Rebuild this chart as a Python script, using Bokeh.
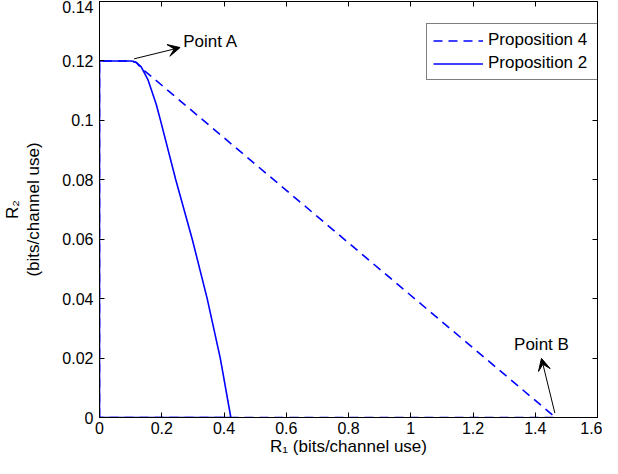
from bokeh.plotting import figure
from bokeh.models import (Arrow, VeeHead, Label, LinearAxis, FixedTicker, Legend,
                          LegendItem, Title, ColumnDataSource, Range1d, CustomJSTickFormatter)
from bokeh.embed import file_html
from bokeh.resources import INLINE

# ---- data ----
prop2_r1 = [0, 0, 0.103, 0.118, 0.134, 0.156, 0.182, 0.196, 0.245, 0.298, 0.346, 0.388, 0.422, 0]
prop2_r2 = [0, 0.12, 0.12, 0.1195, 0.118, 0.1136, 0.1055, 0.1, 0.08, 0.06, 0.04, 0.02, 0, 0]

prop4_r1 = [0, 0, 0.103, 0.118, 0.13, 1.465, 0]
prop4_r2 = [0, 0.12, 0.12, 0.1195, 0.118, 0, 0]

x_ticks = [0, 0.2, 0.4, 0.6, 0.8, 1, 1.2, 1.4, 1.6]
x_tick_labels = ["0", "0.2", "0.4", "0.6", "0.8", "1", "1.2", "1.4", "1.6"]
y_ticks = [0, 0.02, 0.04, 0.06, 0.08, 0.1, 0.12, 0.14]
y_tick_labels = ["0", "0.02", "0.04", "0.06", "0.08", "0.1", "0.12", "0.14"]

point_a_from = (0.111, 0.1207)
point_a_to = (0.259, 0.1245)
point_a_text = (0.269, 0.1266)
point_b_from = (1.463, 0.0015)
point_b_to = (1.420, 0.0199)
point_b_text = (1.420, 0.0244)

FONT = "Liberation Sans"
BLUE = "#0000ff"

p = figure(width=602, height=458,
           x_range=Range1d(0, 1.6), y_range=Range1d(0, 0.14),
           output_backend="svg", toolbar_location=None,
           min_border_left=92, min_border_top=1, min_border_right=5, min_border_bottom=0)
p.xgrid.visible = False
p.ygrid.visible = False
p.outline_line_color = "black"
p.background_fill_color = "white"
p.border_fill_color = "white"

src2 = ColumnDataSource(dict(x=prop2_r1, y=prop2_r2))
src4 = ColumnDataSource(dict(x=prop4_r1, y=prop4_r2))

r4 = p.line("x", "y", source=src4, line_color=BLUE, line_width=1.6, line_dash="9 6")
r2 = p.line("x", "y", source=src2, line_color=BLUE, line_width=1.6)

def style_axis(ax, ticks, labels=None, show_labels=True):
    ax.ticker = FixedTicker(ticks=ticks)
    ax.major_tick_in = 5
    ax.major_tick_out = 0
    ax.minor_tick_line_color = None
    ax.axis_line_color = "black"
    ax.major_tick_line_color = "black"
    if show_labels:
        ax.major_label_overrides = {t: l for t, l in zip(ticks, labels)}
        ax.major_label_text_font = FONT
        ax.major_label_text_font_size = "16px"
        ax.major_label_text_color = "black"
    else:
        ax.formatter = CustomJSTickFormatter(code="return ''")
        ax.major_label_standoff = 0

xa = p.xaxis[0]
ya = p.yaxis[0]
style_axis(xa, x_ticks, x_tick_labels)
style_axis(ya, y_ticks, y_tick_labels)
xa.major_label_standoff = 4
ya.major_label_standoff = 6

xa.axis_label = "R\u2081 (bits/channel use)"
xa.axis_label_text_font = FONT
xa.axis_label_text_font_size = "17px"
xa.axis_label_text_font_style = "normal"
xa.axis_label_text_color = "black"
xa.axis_label_standoff = 0

ya.axis_label = "(bits/channel use)"
ya.axis_label_text_font = FONT
ya.axis_label_text_font_size = "17px"
ya.axis_label_text_font_style = "normal"
ya.axis_label_text_color = "black"
ya.axis_label_standoff = 16

top = LinearAxis()
right = LinearAxis()
style_axis(top, x_ticks, show_labels=False)
style_axis(right, y_ticks, show_labels=False)
p.add_layout(top, "above")
p.add_layout(right, "right")

t = Title(text="R\u2082", align="center", text_font=FONT, text_font_size="17px",
          text_font_style="normal", text_color="black", standoff=0)
p.add_layout(t, "left")

legend = Legend(items=[LegendItem(label="Proposition 4", renderers=[r4]),
                       LegendItem(label="Proposition 2", renderers=[r2])],
                location=(327, 337), glyph_width=50, glyph_height=17, label_height=17,
                label_width=108, padding=6, spacing=3, label_standoff=5,
                label_text_font=FONT, label_text_font_size="17px", label_text_color="black",
                border_line_color="black", border_line_width=1,
                background_fill_color="white", background_fill_alpha=1.0, margin=0)
p.add_layout(legend, "center")

for (fx, fy), (tx, ty) in [(point_a_from, point_a_to), (point_b_from, point_b_to)]:
    p.add_layout(Arrow(end=VeeHead(size=12, fill_color="black", line_color="black"),
                       x_start=fx, y_start=fy, x_end=tx, y_end=ty,
                       line_color="black", line_width=1))

p.add_layout(Label(x=point_a_text[0], y=point_a_text[1], text="Point A", text_font=FONT,
                   text_font_size="17px", text_color="black",
                   text_align="left", text_baseline="middle"))
p.add_layout(Label(x=point_b_text[0], y=point_b_text[1], text="Point B", text_font=FONT,
                   text_font_size="17px", text_color="black",
                   text_align="center", text_baseline="middle"))

open("out.html", "w").write(file_html(p, INLINE))
